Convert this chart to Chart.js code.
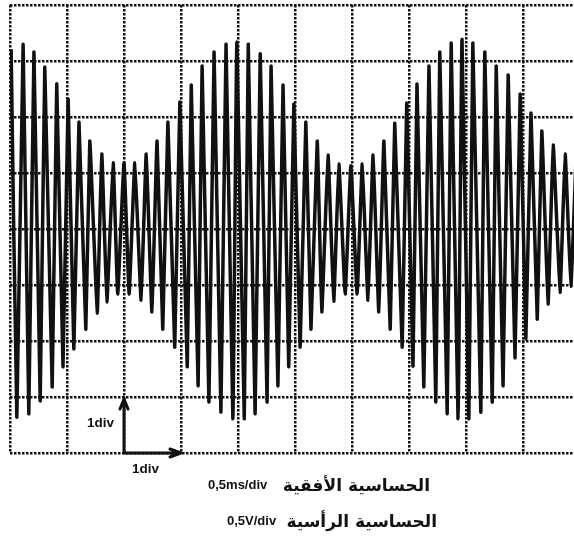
<!DOCTYPE html>
<html>
<head>
<meta charset="utf-8">
<script src="https://cdn.jsdelivr.net/npm/chart.js@4/dist/chart.umd.min.js"></script>
<style>
  html, body { margin: 0; padding: 0; background: #fff; overflow: hidden; }
  .wrap { position: relative; width: 580px; height: 540px; }
  .lbl { position: absolute; color: #111; white-space: nowrap; line-height: 18px; }
  .lat { font: bold 13px "Liberation Sans", Arial, sans-serif; }
  .ar { font: bold 17px "DejaVu Sans", sans-serif; direction: rtl; text-align: right; }
</style>
</head>
<body>
<div class="wrap">
  <canvas id="scope"></canvas>
  <div class="lbl lat" style="left:87px; top:415px; font-size:13.5px;">1div</div>
  <div class="lbl lat" style="left:132px; top:461px; font-size:13.5px;">1div</div>
  <div class="lbl lat" style="left:208px; top:477px;">0,5ms/div</div>
  <div class="lbl ar" style="right:150px; top:475px;">الحساسية الأفقية</div>
  <div class="lbl lat" style="left:227px; top:513px;">0,5V/div</div>
  <div class="lbl ar" style="right:143px; top:511px;">الحساسية الرأسية</div>
</div>
<script>
// peaks of the trace (time and voltage in divisions)
const topT = [0.02, 0.23, 0.42, 0.61, 0.82, 1.02, 1.21, 1.40, 1.61, 1.81,
              2.00, 2.19, 2.39, 2.58, 2.77, 2.98, 3.18, 3.37, 3.58, 3.79,
              3.98, 4.18, 4.39, 4.58, 4.79, 4.98, 5.19, 5.39, 5.58, 5.77,
              5.98, 6.18, 6.37, 6.56, 6.75, 6.96, 7.14, 7.35, 7.54, 7.74,
              7.93, 8.12, 8.33, 8.53, 8.74, 8.95, 9.14, 9.33, 9.53, 9.74, 9.93];
const topV = [3.21, 3.30, 3.16, 2.89, 2.59, 2.32, 1.91, 1.57, 1.34, 1.18,
              1.18, 1.18, 1.34, 1.57, 1.91, 2.27, 2.57, 2.91, 3.16, 3.30,
              3.34, 3.30, 3.13, 2.91, 2.57, 2.23, 1.91, 1.57, 1.32, 1.16,
              1.13, 1.16, 1.32, 1.57, 1.89, 2.25, 2.59, 2.91, 3.16, 3.32,
              3.39, 3.32, 3.16, 2.91, 2.75, 2.41, 2.07, 1.75, 1.50, 1.34, 1.25];
const botT = [0.12, 0.33, 0.53, 0.74, 0.93, 1.12, 1.33, 1.53, 1.70, 1.89,
              2.09, 2.30, 2.49, 2.68, 2.89, 3.11, 3.30, 3.49, 3.70, 3.91,
              4.11, 4.30, 4.51, 4.70, 4.89, 5.09, 5.28, 5.47, 5.68, 5.88,
              6.09, 6.28, 6.47, 6.67, 6.88, 7.07, 7.26, 7.47, 7.67, 7.86,
              8.05, 8.26, 8.46, 8.65, 8.86, 9.05, 9.25, 9.44, 9.65, 9.84];
const botV = [-3.36, -3.30, -3.07, -2.82, -2.46, -2.14, -1.79, -1.50, -1.30, -1.16,
              -1.16, -1.27, -1.48, -1.79, -2.11, -2.46, -2.80, -3.09, -3.27, -3.39,
              -3.39, -3.30, -3.09, -2.80, -2.46, -2.11, -1.79, -1.48, -1.29, -1.16,
              -1.16, -1.27, -1.48, -1.79, -2.11, -2.45, -2.82, -3.09, -3.30, -3.39,
              -3.39, -3.27, -3.09, -2.80, -2.30, -1.96, -1.61, -1.34, -1.13, -1.02];

const xDivs = 10;   // horizontal divisions
const yDivs = 4;    // divisions above / below centre

const trace = topT.map((t, i) => ({ x: t, y: topV[i] }))
    .concat(botT.map((t, i) => ({ x: t, y: botV[i] })))
    .sort((a, b) => a.x - b.x);

const ink = '#111';

// the two "1div" arrows in the lower left cell
const arrows = {
    id: 'arrows',
    afterDraw(chart) {
        const { ctx, scales: { x, y } } = chart;
        const x0 = x.getPixelForValue(2), y0 = y.getPixelForValue(-yDivs);
        const x1 = x.getPixelForValue(3), y1 = y.getPixelForValue(-yDivs + 1);
        ctx.save();
        ctx.strokeStyle = ink;
        ctx.lineWidth = 3;
        ctx.lineCap = 'round';
        ctx.beginPath();
        ctx.moveTo(x0, y0); ctx.lineTo(x0, y1 + 2);
        ctx.moveTo(x0, y0); ctx.lineTo(x1, y0);
        // heads
        ctx.moveTo(x0 - 4, y1 + 12); ctx.lineTo(x0, y1 + 2); ctx.lineTo(x0 + 4, y1 + 12);
        ctx.moveTo(x1 - 11, y0 - 4); ctx.lineTo(x1, y0); ctx.lineTo(x1 - 11, y0 + 4);
        ctx.stroke();
        ctx.restore();
    }
};

const gridOpts = { color: ink, lineWidth: 2.5, drawTicks: false };

new Chart(document.getElementById('scope'), {
    type: 'line',
    data: {
        datasets: [{
            data: trace,
            borderColor: ink,
            borderWidth: 3.5,
            borderJoinStyle: 'round',
            pointRadius: 0,
            tension: 0.1,
            fill: false
        }]
    },
    options: {
        responsive: true,
        maintainAspectRatio: false,
        animation: false,
        layout: { padding: { left: 10, top: 5, right: 0, bottom: 87 } },
        scales: {
            x: {
                type: 'linear', min: 0, max: xDivs,
                ticks: { display: false, stepSize: 1 },
                grid: gridOpts,
                border: { display: false, dash: [2.5, 1.5] }
            },
            y: {
                min: -yDivs, max: yDivs,
                ticks: { display: false, stepSize: 1 },
                grid: gridOpts,
                border: { display: false, dash: [2.5, 1.5] }
            }
        },
        plugins: { legend: { display: false }, tooltip: { enabled: false } }
    },
    plugins: [arrows]
});
</script>
</body>
</html>
